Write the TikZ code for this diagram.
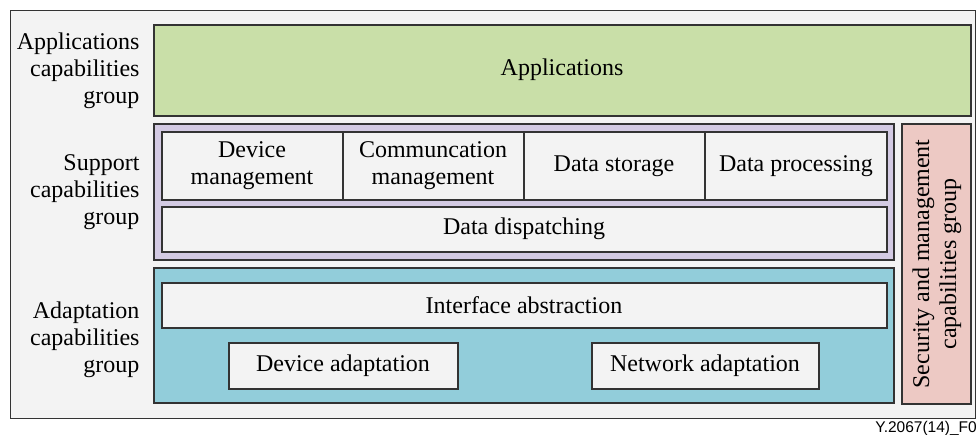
\documentclass[tikz,border=0pt]{standalone}
\usepackage{fontspec}
\setmainfont{Liberation Serif}
\setsansfont{Liberation Sans}

\definecolor{appgreen}{RGB}{201,223,168}
\definecolor{suppurple}{RGB}{211,202,227}
\definecolor{adacyan}{RGB}{146,205,218}
\definecolor{secpink}{RGB}{237,201,196}
\definecolor{paper}{RGB}{243,243,243}

\begin{document}
\begin{tikzpicture}[x=1pt, y=-1pt,
    box/.style={draw=black!80, line width=1.2pt, inner sep=0pt},
    cell/.style={box, fill=paper},
    txt/.style={font=\fontsize{24}{27}\selectfont, align=center},
    side/.style={font=\fontsize{24}{27}\selectfont, align=right, anchor=east}]

\useasboundingbox (0,0) rectangle (977,434);

% The frame
\draw[box, line width=1pt, fill=paper] (10,10) rectangle (975,418);

% The groups
\draw[box, fill=appgreen] (154,25) rectangle (971,116);
\draw[box, fill=suppurple] (154,124) rectangle (894,260);
\draw[box, fill=adacyan] (154,268) rectangle (894,403);
\draw[box, fill=secpink] (902,124) rectangle (971,404);

% Group labels
\node[side] (applbl) at (143,71) {Applications\\capabilities\\group};
\node[side] (suplbl) at (143,192) {Support\\capabilities\\group};
\node[side] (adalbl) at (143,340) {Adaptation\\capabilities\\group};
\node[txt, rotate=90] (seclbl) at (937,264) {Security and management\\capabilities group};
\node[txt] (apps) at (562,70) {Applications};

% Support cells
\draw[cell] (162,132) rectangle (887,200);
\draw[box] (343,132) -- (343,200);
\draw[box] (524,132) -- (524,200);
\draw[box] (705,132) -- (705,200);
\node[txt] (devmgmt) at (252,166) {Device\\management};
\node[txt] (commgmt) at (433,166) {Communcation\\management};
\node[txt] (store) at (614,166) {Data storage};
\node[txt] (proc) at (796,166) {Data processing};
\draw[cell] (162,207) rectangle (887,252);
\node[txt] (dispatch) at (524,229) {Data dispatching};

% Adaptation cells
\draw[cell] (162,283) rectangle (887,328);
\node[txt] (iface) at (524,305) {Interface abstraction};
\draw[cell] (229,343) rectangle (458,389);
\node[txt] (devada) at (343,366) {Device adaptation};
\draw[cell] (592,343) rectangle (819,389);
\node[txt] (netada) at (705,366) {Network adaptation};

% Figure tag
\node[font=\sffamily\fontsize{15.5}{17}\selectfont, anchor=east, inner sep=0pt] (tag) at (977,428) {Y.2067(14)\_F0};

\end{tikzpicture}
\end{document}
